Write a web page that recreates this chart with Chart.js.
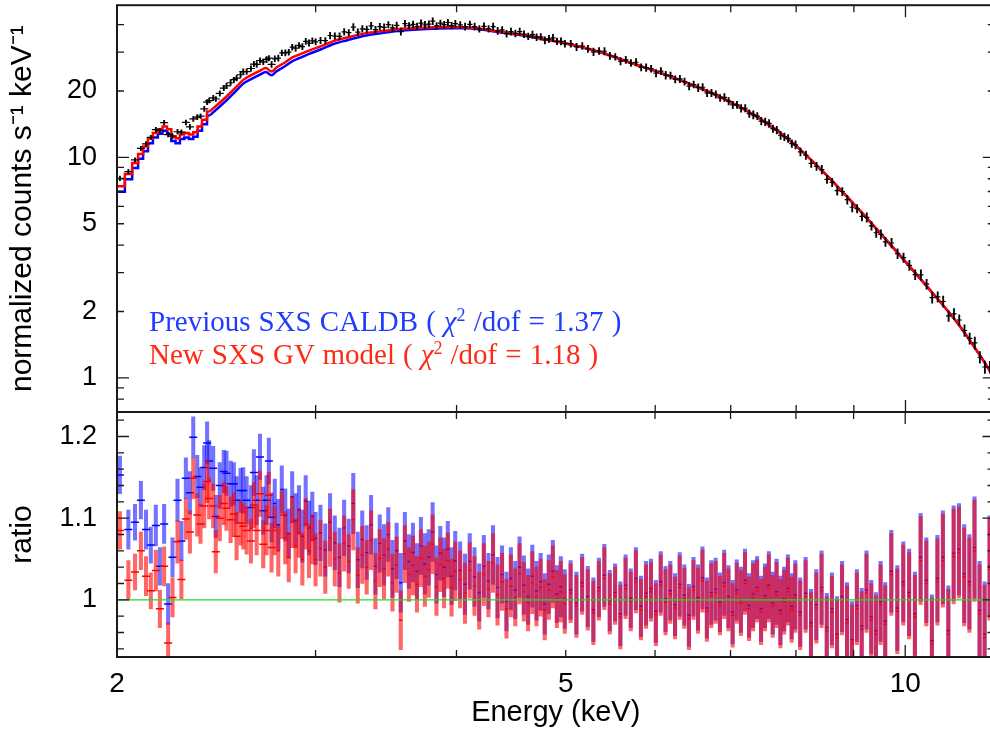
<!DOCTYPE html>
<html>
<head>
<meta charset="utf-8">
<script src="https://cdn.jsdelivr.net/npm/chart.js@4.4.0/dist/chart.umd.min.js"></script>
<style>
html, body { margin: 0; padding: 0; background: #fff; overflow: hidden; width: 990px; height: 731px; }
#wrap { position: relative; width: 1000px; height: 731px; }
#wrap canvas { position: absolute; left: 0; top: 0; }
.note { position: absolute; left: 149px; font-family: "Liberation Serif", "Times New Roman", serif; font-size: 29px; line-height: 29px; word-spacing: 0.8px; white-space: nowrap; }
.note .sup { position: relative; top: -10px; font-size: 18px; }
</style>
</head>
<body>
<div id="wrap">
  <canvas id="spec" width="1000" height="731"></canvas>
  <canvas id="ratio" width="1000" height="731"></canvas>
  <div class="note" style="top:307px;color:#1f3cff">Previous SXS CALDB ( <i>χ</i><span class="sup">2</span> /dof = 1.37 )</div>
  <div class="note" style="top:340px;color:#ff2a14">New SXS GV model ( <i>χ</i><span class="sup">2</span> /dof = 1.18 )</div>
</div>
<script>
// energy bins (keV) shared by the data and the ratio panel
const binE = [
  2.012, 2.047, 2.075, 2.100, 2.122, 2.143, 2.165, 2.183, 2.202, 2.220,
  2.240, 2.263, 2.281, 2.302, 2.321, 2.337, 2.356, 2.372, 2.390, 2.404,
  2.414, 2.434, 2.447, 2.467, 2.487, 2.501, 2.522, 2.539, 2.553, 2.574,
  2.588, 2.606, 2.629, 2.645, 2.660, 2.678, 2.696, 2.714, 2.727, 2.742,
  2.76, 2.78, 2.80, 2.82, 2.84, 2.86, 2.88, 2.90, 2.92, 2.94, 2.96, 2.98, 3.00,
  3.03, 3.06, 3.09, 3.12, 3.15, 3.18, 3.21, 3.24, 3.27, 3.30, 3.33, 3.36, 3.39, 3.42, 3.45, 3.48,
  3.51, 3.54, 3.57, 3.60, 3.63, 3.66, 3.69, 3.72, 3.75, 3.78, 3.81, 3.84, 3.87, 3.90, 3.93, 3.96, 3.99,
  4.03, 4.07, 4.11, 4.15, 4.19, 4.23, 4.27, 4.31, 4.35, 4.39, 4.43, 4.47, 4.51, 4.55, 4.59, 4.63,
  4.67, 4.71, 4.75, 4.79, 4.83, 4.87, 4.91, 4.95, 4.99,
  5.05, 5.11, 5.17, 5.23, 5.29, 5.35, 5.41, 5.47, 5.53, 5.59, 5.65, 5.71, 5.77, 5.83, 5.89, 5.95,
  6.01, 6.07, 6.13, 6.19, 6.25, 6.31, 6.37, 6.43, 6.49, 6.55, 6.61, 6.67, 6.73, 6.79, 6.85, 6.91,
  6.97, 7.03, 7.09, 7.15, 7.21, 7.27, 7.33, 7.39, 7.45, 7.51, 7.57, 7.63, 7.69, 7.75, 7.81, 7.87,
  7.93, 7.99,
  8.07, 8.16, 8.25, 8.34, 8.43, 8.52, 8.61, 8.70, 8.79, 8.88, 8.97, 9.06, 9.15, 9.24, 9.33, 9.42,
  9.51, 9.60,
  9.72, 9.84, 9.96, 10.08, 10.20, 10.32, 10.44, 10.56, 10.68, 10.80, 10.92, 11.04, 11.16, 11.28,
  11.40, 11.52, 11.64, 11.76, 11.88
];

// normalized counts s^-1 keV^-1 (black crosses)
const counts = [
  8.03, 8.61, 9.75, 10.98, 11.52, 12.33, 13.36, 13.25, 14.37, 12.69,
  12.49, 13.07, 13.02, 14.4, 13.75, 14.94, 15.24, 15.4, 16.6, 17.8,
  18.1, 18.6, 18.4, 19.5, 20.6, 21.1, 21.8, 22.5, 22.9, 23.7,
  24.5, 24.5, 25.3, 26.5, 26.4, 27.5, 27.1, 27.8, 28.2, 26.4,
  28.0, 28.2, 29.8, 29.8, 30.0, 31.6, 31.3, 32.2, 31.8, 33.6, 33.0, 33.8, 33.4,
  33.9, 33.85, 35.7, 35.5, 35.4, 37.1, 36.8, 39.0, 37.0, 38.3, 38.1, 39.5, 38.0, 39.2, 38.9, 40.0,
  38.7, 39.7, 37.2, 40.4, 39.6, 40.1, 39.3, 40.6, 39.9, 40.2, 41.5, 39.5, 40.6, 40.0, 40.9, 39.6, 40.4,
  39.9, 39.2, 40.1, 39.2, 38.3, 39.3, 38.3, 39.2, 37.5, 37.9, 36.4, 37.2, 36.5, 37.2, 36.2, 35.4,
  36.0, 35.1, 35.2, 34.0, 34.5, 34.8, 33.6, 33.6, 32.8,
  32.8, 31.7, 32.0, 31.05, 30.1, 30.4, 30.3, 28.9, 28.6, 27.3, 27.7, 26.8, 27.0, 25.6, 25.55, 25.25,
  24.1, 24.6, 23.6, 23.5, 22.6, 22.7, 22.05, 21.05, 21.4, 20.7, 20.8, 19.6, 19.6, 19.3, 18.6, 18.7,
  18.0, 17.3, 17.3, 16.7, 16.7, 15.8, 15.6, 15.4, 14.6, 14.5, 14.25, 13.5, 13.3, 12.6, 12.4, 12.2,
  11.55, 11.4,
  10.6, 10.24, 9.39, 9.11, 8.80, 7.95, 7.70, 7.06, 7.00, 6.43, 5.94, 5.85, 5.40, 5.34, 4.89, 4.55,
  4.47, 4.14,
  4.09, 3.66, 3.51, 3.24, 2.94, 2.93, 2.66, 2.31, 2.33, 2.22, 1.91, 1.95, 1.83, 1.64,
  1.51, 1.44, 1.24, 1.12, 1.12
];

// data / model, previous CALDB (blue)
const ratioBlue = [
  1.153, 1.086, 1.095, 1.122, 1.086, 1.067, 1.091, 1.041, 1.093, 0.995,
  1.052, 1.122, 1.072, 1.149, 1.131, 1.199, 1.151, 1.138, 1.162, 1.192,
  1.170, 1.161, 1.102, 1.140, 1.157, 1.155, 1.142, 1.142, 1.122, 1.134,
  1.134, 1.122, 1.113, 1.156, 1.122, 1.175, 1.109, 1.122, 1.170, 1.101,
  1.118, 1.092, 1.135, 1.104, 1.081, 1.126, 1.097, 1.110, 1.078, 1.121, 1.088, 1.102, 1.075,
  1.082, 1.061, 1.095, 1.070, 1.052, 1.088, 1.066, 1.118, 1.049, 1.074, 1.058, 1.092, 1.041, 1.069, 1.055, 1.080,
  1.038, 1.060, 1.021, 1.072, 1.047, 1.058, 1.035, 1.066, 1.044, 1.052, 1.083, 1.031, 1.057, 1.040, 1.062, 1.029, 1.048,
  1.036, 1.019, 1.047, 1.028, 1.009, 1.041, 1.023, 1.055, 1.015, 1.031, 0.998, 1.026, 1.012, 1.040, 1.018, 1.004,
  1.029, 1.011, 1.022, 0.995, 1.019, 1.035, 1.007, 1.016, 1.001,
  1.012, 0.996, 1.021, 1.004, 0.988, 1.015, 1.030, 0.999, 1.009, 0.983, 1.018, 1.002, 1.026, 0.992, 1.008, 1.014,
  0.986, 1.022, 1.001, 1.011, 0.994, 1.019, 1.006, 0.981, 1.016, 1.003, 1.027, 0.990, 1.009, 1.013, 0.997, 1.021,
  1.004, 0.985, 1.012, 1.000, 1.024, 0.993, 1.007, 1.015, 0.989, 1.005, 1.018, 0.996, 1.010, 0.987, 1.001, 1.014,
  0.992, 1.006,
  0.985, 1.008, 0.972, 0.994, 1.015, 0.966, 0.989, 0.958, 1.004, 0.976, 0.951, 0.993, 0.968, 1.012, 0.979, 0.962,
  0.998, 0.974,
  1.035, 0.990, 1.022, 1.009, 0.983, 1.052, 1.024, 0.950, 1.026, 1.052, 0.962, 1.057, 1.062, 1.032,
  1.022, 1.064, 0.987, 0.958, 1.041
];

// data / model, new SXS GV model (red)
const ratioRed = [
  1.085, 1.024, 1.034, 1.060, 1.029, 1.011, 1.036, 0.989, 1.041, 0.947,
  1.003, 1.071, 1.025, 1.099, 1.083, 1.149, 1.104, 1.093, 1.115, 1.145,
  1.124, 1.115, 1.059, 1.100, 1.118, 1.112, 1.098, 1.105, 1.078, 1.094,
  1.090, 1.085, 1.072, 1.116, 1.085, 1.130, 1.068, 1.085, 1.128, 1.064,
  1.085, 1.060, 1.104, 1.076, 1.052, 1.095, 1.066, 1.082, 1.050, 1.093, 1.060, 1.074, 1.049,
  1.063, 1.040, 1.076, 1.050, 1.033, 1.069, 1.047, 1.098, 1.030, 1.055, 1.040, 1.073, 1.023, 1.051, 1.038, 1.062,
  1.021, 1.043, 0.975, 1.056, 1.031, 1.042, 1.019, 1.051, 1.029, 1.037, 1.068, 1.016, 1.043, 1.026, 1.048, 1.015, 1.035,
  1.025, 1.008, 1.036, 1.017, 0.999, 1.031, 1.013, 1.045, 1.006, 1.022, 0.989, 1.017, 1.003, 1.032, 1.010, 0.996,
  1.021, 1.004, 1.015, 0.988, 1.012, 1.028, 1.001, 1.010, 0.995,
  1.008, 0.992, 1.017, 1.000, 0.984, 1.011, 1.026, 0.995, 1.005, 0.979, 1.014, 0.998, 1.022, 0.988, 1.004, 1.010,
  0.982, 1.018, 0.997, 1.007, 0.990, 1.015, 1.002, 0.977, 1.012, 0.999, 1.023, 0.986, 1.005, 1.009, 0.993, 1.017,
  1.000, 0.981, 1.008, 0.996, 1.020, 0.989, 1.003, 1.011, 0.985, 1.001, 1.014, 0.992, 1.006, 0.983, 0.997, 1.010,
  0.988, 1.002,
  0.981, 1.004, 0.968, 0.990, 1.011, 0.962, 0.985, 0.954, 1.000, 0.972, 0.947, 0.989, 0.964, 1.008, 0.975, 0.958,
  0.994, 0.970,
  1.031, 0.986, 1.018, 1.005, 0.979, 1.048, 1.020, 0.946, 1.022, 1.048, 0.958, 1.053, 1.058, 1.028,
  1.018, 1.060, 0.983, 0.954, 1.037
];

// 1-sigma relative errors
const relErr = [
  0.023, 0.024, 0.022, 0.023, 0.024, 0.022, 0.025, 0.023, 0.024, 0.025,
  0.024, 0.026, 0.024, 0.025, 0.026, 0.025, 0.026, 0.024, 0.027, 0.026,
  0.025, 0.027, 0.026, 0.028, 0.026, 0.027, 0.028, 0.026, 0.029, 0.027,
  0.028, 0.029, 0.027, 0.028, 0.030, 0.028, 0.029, 0.030, 0.028, 0.030,
  0.030, 0.031, 0.029, 0.032, 0.030, 0.031, 0.033, 0.030, 0.032, 0.031, 0.033, 0.030, 0.032,
  0.034, 0.032, 0.035, 0.033, 0.036, 0.034, 0.033, 0.037, 0.034, 0.035, 0.033, 0.036, 0.034, 0.035, 0.037, 0.033,
  0.035, 0.034, 0.036, 0.035, 0.033, 0.036, 0.034, 0.035, 0.037, 0.034, 0.036, 0.035, 0.033, 0.036, 0.034, 0.035, 0.036,
  0.035, 0.037, 0.034, 0.036, 0.035, 0.038, 0.034, 0.036, 0.037, 0.035, 0.036, 0.038, 0.035, 0.037, 0.036, 0.034,
  0.038, 0.036, 0.035, 0.037, 0.036, 0.038, 0.035, 0.037, 0.036,
  0.036, 0.038, 0.035, 0.037, 0.039, 0.036, 0.038, 0.037, 0.035, 0.039, 0.037, 0.036, 0.038, 0.037, 0.039, 0.036,
  0.038, 0.037, 0.040, 0.036, 0.038, 0.039, 0.037, 0.038, 0.036, 0.040, 0.038, 0.037, 0.039, 0.038, 0.036, 0.040,
  0.038, 0.039, 0.037, 0.040, 0.038, 0.039, 0.041, 0.038, 0.040, 0.039, 0.041, 0.038, 0.040, 0.042, 0.039, 0.041,
  0.040, 0.042,
  0.042, 0.044, 0.041, 0.043, 0.045, 0.042, 0.044, 0.046, 0.043, 0.045, 0.047, 0.044, 0.046, 0.048, 0.045, 0.047,
  0.049, 0.047,
  0.050, 0.052, 0.049, 0.053, 0.051, 0.054, 0.052, 0.056, 0.053, 0.057, 0.055, 0.058, 0.056, 0.060,
  0.058, 0.062, 0.060, 0.064, 0.062
];

// folded model curves; the first 20 entries are response bins drawn as steps
const modelE = [
  2.0, 2.016, 2.049, 2.077, 2.099, 2.12, 2.141, 2.163, 2.185, 2.205, 2.225, 2.244, 2.264, 2.284,
  2.305, 2.327, 2.347, 2.368, 2.39,
  2.417, 2.46, 2.501, 2.545, 2.588, 2.63, 2.677, 2.71, 2.741, 2.769, 2.82, 2.864, 2.904, 2.96,
  3.03, 3.107, 3.2, 3.326, 3.45, 3.561, 3.7, 3.812, 3.95, 4.081, 4.22, 4.365, 4.52, 4.674, 4.83,
  5.0, 5.352, 5.688, 6.048, 6.472, 6.927, 7.413, 7.933, 8.49, 9.086, 9.723, 10.405, 11.136, 11.85, 12.0
];
const modelBlue = [
  6.98, 6.98, 7.95, 8.95, 9.85, 10.65, 11.6, 12.3, 12.8, 13.2, 12.8, 11.85, 11.6, 12.1,
  12.3, 12.1, 12.4, 13.2, 14.15,
  15.5, 16.8, 18.13, 19.8, 21.6, 22.65, 23.7, 24.4, 23.55, 24.55, 25.95, 27.4, 28.25, 29.45,
  30.85, 32.6, 34.0, 35.7, 36.7, 37.5, 38.0, 38.3, 38.5, 38.5, 37.9, 36.95, 36.1, 35.1, 34.0,
  32.8, 30.05, 27.0, 24.3, 21.3, 18.3, 15.1, 11.7, 8.41, 5.82, 3.96, 2.66, 1.754, 1.099, 0.99
];
const modelRed = [
  7.40, 7.40, 8.41, 9.43, 10.36, 11.2, 12.2, 12.9, 13.4, 13.8, 13.4, 12.45, 12.2, 12.7,
  12.9, 12.7, 13.0, 13.8, 14.8,
  16.16, 17.5, 18.89, 20.6, 22.47, 23.6, 24.7, 25.4, 24.5, 25.55, 27.0, 28.5, 29.3, 30.5,
  31.9, 33.6, 35.0, 36.6, 37.5, 38.2, 38.6, 38.9, 39.0, 38.9, 38.2, 37.2, 36.3, 35.3, 34.1,
  32.9, 30.1, 27.0, 24.3, 21.3, 18.3, 15.1, 11.7, 8.41, 5.82, 3.96, 2.66, 1.754, 1.099, 0.99
];
const stepCount = 20;

// axes and tick marks
const energyRange = [2, 12];
const specRange = [0.7, 49];
const ratioRange = [0.93, 1.23];
const unity = 1;
const energyLabels = [2, 5, 10];
const energyLong = [10];
const energyShort = [3, 4, 5, 6, 7, 8, 9];
const specLabels = [1, 2, 5, 10, 20];
const specLong = [1, 10];
const specShort = [0.8, 0.9, 2, 3, 4, 5, 6, 7, 8, 9, 20, 30, 40];
const ratioLabels = [1, 1.1, 1.2];
const ratioShort = [0.94, 0.96, 0.98, 1.02, 1.04, 1.06, 1.08, 1.12, 1.14, 1.16, 1.18, 1.22];

const FONT = "'Liberation Sans', Arial, Helvetica, sans-serif";
const pts = (xs, ys) => xs.map((x, i) => ({x, y: ys[i]}));
const capRadius = c => (binE[c.dataIndex] < 2.75 ? 4 : 1.6);
const crossRadius = c => (binE[c.dataIndex] < 2.75 ? 4 : 2.6);

// box frame with inward ticks on all four sides
const frameTicks = {
  id: 'frameTicks',
  afterDraw(chart, args, o) {
    const {ctx, chartArea: a} = chart;
    const sx = chart.scales.x, sy = chart.scales.y;
    ctx.save();
    ctx.strokeStyle = '#1a1a1a';
    ctx.lineWidth = 1.3;
    ctx.beginPath();
    const vt = (vals, len) => vals.forEach(v => {
      const p = sx.getPixelForValue(v);
      ctx.moveTo(p, a.top); ctx.lineTo(p, a.top + len);
      ctx.moveTo(p, a.bottom); ctx.lineTo(p, a.bottom - len);
    });
    const ht = (vals, len) => vals.forEach(v => {
      const p = sy.getPixelForValue(v);
      ctx.moveTo(a.left, p); ctx.lineTo(a.left + len, p);
      ctx.moveTo(a.right, p); ctx.lineTo(a.right - len, p);
    });
    vt(o.xLong, 12); vt(o.xShort, 7); ht(o.yLong, 12); ht(o.yShort, 7);
    ctx.stroke();
    ctx.lineWidth = 2;
    ctx.strokeRect(a.left, a.top, a.right - a.left, a.bottom - a.top);
    ctx.restore();
  }
};

const noPad = s => { s.paddingTop = 0; s.paddingBottom = 0; s.paddingLeft = 0; s.paddingRight = 0; };

const yAxis = (range, labels, title) => ({
  type: range === specRange ? 'logarithmic' : 'linear',
  min: range[0], max: range[1], offset: false, beginAtZero: false,
  grid: {display: false, drawTicks: false}, border: {display: false},
  afterBuildTicks: s => { s.ticks = labels.map(v => ({value: v})); },
  afterFit: s => { s.width = 117; noPad(s); },
  ticks: {padding: 20, color: '#000', font: {family: FONT, size: 27}, callback: v => String(v)},
  title: {display: true, text: title, color: '#000', font: {family: FONT, size: 30}, padding: {top: 5, bottom: 0}}
});

const base = {
  responsive: false, animation: false, events: [],
  plugins: {legend: {display: false}, tooltip: {enabled: false}}
};

new Chart(document.getElementById('spec'), {
  type: 'scatter',
  data: {
    datasets: [
      {data: pts(binE, counts), pointStyle: 'line', pointRadius: crossRadius, borderColor: '#000', borderWidth: 1.2},
      {type: 'bar', data: binE.map((x, i) => ({x, y: [counts[i] * (1 - relErr[i]), counts[i] * (1 + relErr[i])]})),
        backgroundColor: '#000', barThickness: 1.2, grouped: false},
      {type: 'line', data: pts(modelE.slice(stepCount - 1), modelRed.slice(stepCount - 1)),
        borderColor: '#ff0000', borderWidth: 2.5, pointRadius: 0, cubicInterpolationMode: 'monotone'},
      {type: 'line', data: pts(modelE.slice(0, stepCount), modelRed.slice(0, stepCount)),
        borderColor: '#ff0000', borderWidth: 2.5, pointRadius: 0, stepped: 'middle'},
      {type: 'line', data: pts(modelE.slice(stepCount - 1), modelBlue.slice(stepCount - 1)),
        borderColor: '#0000ff', borderWidth: 2.5, pointRadius: 0, cubicInterpolationMode: 'monotone'},
      {type: 'line', data: pts(modelE.slice(0, stepCount), modelBlue.slice(0, stepCount)),
        borderColor: '#0000ff', borderWidth: 2.5, pointRadius: 0, stepped: 'middle'}
    ]
  },
  options: {
    ...base,
    layout: {padding: {left: 0, right: 4, top: 4, bottom: 319}},
    plugins: {...base.plugins, frameTicks: {xLong: energyLong, xShort: energyShort, yLong: specLong, yShort: specShort}},
    scales: {
      x: {type: 'logarithmic', min: energyRange[0], max: energyRange[1], offset: false, display: false},
      y: yAxis(specRange, specLabels, 'normalized counts s⁻¹ keV⁻¹')
    }
  },
  plugins: [frameTicks]
});

new Chart(document.getElementById('ratio'), {
  type: 'scatter',
  data: {
    datasets: [
      {type: 'line', data: [{x: energyRange[0], y: unity}, {x: energyRange[1], y: unity}],
        borderColor: '#22dd22', borderWidth: 1.3, pointRadius: 0},
      {data: pts(binE, ratioRed), pointStyle: 'line', pointRadius: capRadius, borderColor: '#ff0000', borderWidth: 1.5},
      {type: 'bar', data: binE.map((x, i) => ({x, y: [ratioRed[i] - relErr[i], ratioRed[i] + relErr[i]]})),
        backgroundColor: 'rgba(255,0,0,0.6)', barThickness: 3.4, grouped: false},
      {data: pts(binE, ratioBlue), pointStyle: 'line', pointRadius: capRadius, borderColor: '#0000ff', borderWidth: 1.5},
      {type: 'bar', data: binE.map((x, i) => ({x, y: [ratioBlue[i] - relErr[i], ratioBlue[i] + relErr[i]]})),
        backgroundColor: 'rgba(0,0,255,0.55)', barThickness: 3.4, grouped: false}
    ]
  },
  options: {
    ...base,
    layout: {padding: {left: 0, right: 4, top: 412, bottom: 0}},
    plugins: {...base.plugins, frameTicks: {xLong: energyLong, xShort: energyShort, yLong: ratioLabels, yShort: ratioShort}},
    scales: {
      x: {
        type: 'logarithmic', min: energyRange[0], max: energyRange[1], offset: false,
        grid: {display: false, drawTicks: false}, border: {display: false},
        afterBuildTicks: s => { s.ticks = energyLabels.map(v => ({value: v})); },
        afterFit: s => { s.height = 74; noPad(s); },
        ticks: {padding: 10, autoSkip: false, maxRotation: 0, color: '#000', font: {family: FONT, size: 28}, callback: v => String(v)},
        title: {display: true, text: 'Energy (keV)', color: '#000', font: {family: FONT, size: 29}, padding: {top: 0, bottom: 1}}
      },
      y: yAxis(ratioRange, ratioLabels, 'ratio')
    }
  },
  plugins: [frameTicks]
});
</script>
</body>
</html>
